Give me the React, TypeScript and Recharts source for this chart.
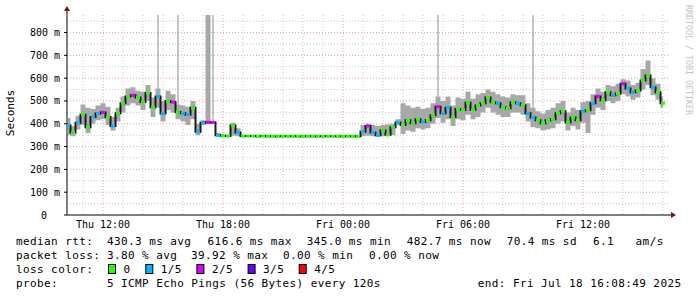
import {
  ComposedChart,
  Area,
  Line,
  Bar,
  Scatter,
  XAxis,
  YAxis,
  CartesianGrid,
} from "recharts";

// time axis: hours since Thu 00:00, one sample every 15 min
const T0 = 10.25;
const STEP = 0.25;

const median = [
  392, 362, 405, 440, 385, 430, 445, 450, 430, 390,
  446, 490, 520, 525, 515, 495, 535, 472, 520, 445,
  500, 495, 452, 446, 440, 470, 365, 405, 407, 406,
  350, 347, 346, 392, 362, 346, 346, 346, 345, 346,
  345, 345, 345, 345, 345, 345, 345, 345, 345, 345,
  345, 345, 345, 345, 345, 345, 345, 345, 345, 365,
  390, 362, 350, 370, 352, 385, 406, 395, 415, 402,
  420, 408, 415, 437, 475, 446, 470, 430, 465, 460,
  492, 462, 480, 490, 515, 494, 490, 472, 468, 494,
  490, 481, 446, 428, 415, 402, 415, 420, 446, 455,
  406, 428, 415, 455, 459, 490, 520, 503, 538, 525,
  533, 575, 555, 538, 546, 590, 612, 560, 538, 490,
];

const lossLevel = [
  1, 0, 1, 0, 0, 1, 1, 2, 0, 1,
  0, 0, 0, 2, 0, 0, 0, 0, 1, 1,
  0, 2, 0, 1, 1, 0, 1, 1, 2, 2,
  1, 0, 0, 0, 1, 0, 0, 0, 0, 0,
  0, 0, 0, 0, 0, 0, 0, 0, 0, 0,
  0, 0, 0, 0, 0, 0, 0, 0, 0, 1,
  2, 1, 1, 0, 0, 0, 1, 0, 0, 0,
  0, 1, 0, 0, 2, 1, 1, 0, 0, 0,
  0, 0, 0, 0, 0, 0, 1, 0, 0, 0,
  1, 0, 1, 1, 0, 0, 0, 0, 0, 0,
  0, 0, 0, 1, 0, 1, 2, 0, 0, 1,
  0, 2, 1, 1, 0, 0, 0, 1, 0, 0,
];

const smokeLow = [
  350, 345, 375, 395, 360, 400, 415, 420, 395, 370,
  410, 450, 480, 490, 480, 460, 500, 430, 470, 410,
  460, 450, 420, 410, 395, 420, 350, 395, 400, 400,
  345, 345, 345, 348, 345, 345, 345, 345, 345, 345,
  345, 345, 345, 345, 345, 345, 345, 345, 345, 345,
  345, 345, 345, 345, 345, 345, 345, 345, 345, 345,
  348, 345, 345, 345, 345, 350, 395, 355, 370, 365,
  380, 375, 380, 400, 425, 405, 420, 390, 420, 415,
  440, 420, 430, 450, 470, 450, 440, 430, 430, 450,
  450, 440, 410, 385, 380, 370, 375, 380, 400, 410,
  370, 390, 375, 405, 360, 440, 470, 460, 500, 490,
  500, 530, 520, 505, 515, 550, 570, 525, 505, 470,
];

const smokeHigh = [
  425, 390, 435, 485, 470, 465, 480, 490, 475, 430,
  470, 520, 555, 560, 545, 540, 570, 515, 555, 500,
  545, 530, 485, 480, 475, 500, 400, 415, 877, 412,
  360, 350, 350, 405, 380, 348, 348, 348, 347, 348,
  347, 347, 347, 347, 347, 347, 347, 347, 347, 347,
  347, 347, 347, 347, 347, 347, 347, 347, 347, 395,
  400, 395, 390, 395, 398, 400, 420, 490, 480, 470,
  475, 465, 470, 490, 520, 500, 520, 480, 515, 510,
  540, 510, 530, 535, 550, 540, 530, 520, 515, 530,
  525, 525, 490, 470, 455, 445, 460, 470, 490, 500,
  450, 470, 460, 495, 500, 530, 555, 540, 570, 565,
  575, 595, 590, 570, 580, 640, 677, 600, 575, 520,
];

// lone max pings that hit the top of the graph
const spikeTimes = [14.75, 15.75, 17.5, 28.75, 33.5];
const spikeTop = [877, 877, 877, 877, 877];

const lossColors = ["#26ff00", "#00b8ff", "#dd00ff", "#6a00ff", "#ff0000"];
const lossNames = ["0", "1/5", "2/5", "3/5", "4/5"];

const xTicks = [12, 18, 24, 30, 36];
const xLabels = ["Thu 12:00", "Thu 18:00", "Fri 00:00", "Fri 06:00", "Fri 12:00"];
const yTicks = [0, 100, 200, 300, 400, 500, 600, 700, 800];
const yLabels = ["0", "100 m", "200 m", "300 m", "400 m", "500 m", "600 m", "700 m", "800 m"];

const minorHours = [11, 13, 14, 15, 16, 17, 19, 20, 21, 22, 23, 25, 26, 27, 28, 29, 31, 32, 33, 34, 35, 37, 38, 39, 40];
const minorMs = [50, 150, 250, 350, 450, 550, 650, 750, 850];

const rows = median.map((m, i) => {
  const t = T0 + i * STEP;
  const s = spikeTimes.indexOf(t);
  return {
    t,
    med: m,
    loss: lossLevel[i],
    smoke: [smokeLow[i], smokeHigh[i]],
    spike: s >= 0 ? [smokeHigh[i], spikeTop[s]] : null,
  };
});

const MONO = '"DejaVu Sans Mono", monospace';

function YTick({ x, y, payload }: any) {
  const i = yTicks.indexOf(payload.value);
  return (
    <text
      x={payload.value === 0 ? x - 13 : x}
      y={y}
      dy={3.5}
      textAnchor="end"
      fontSize={10}
      fontFamily={MONO}
      fill="#000"
    >
      {yLabels[i]}
    </text>
  );
}

function LossMark({ cx, cy, payload }: any) {
  if (cx == null || cy == null) return null;
  return <rect x={cx - 2} y={cy - 1.5} width={4} height={3} fill={lossColors[payload.loss]} />;
}

const legendText = {
  fontFamily: MONO,
  fontSize: 11,
  letterSpacing: 0.4,
  fill: "#000",
  whiteSpace: "pre",
} as const;

export default function App() {
  return (
    <div
      style={{
        position: "absolute",
        left: 0,
        top: 0,
        width: 697,
        height: 297,
        background: "#fff",
      }}
    >
      <ComposedChart
        width={697}
        height={232}
        data={rows}
        margin={{ top: 15, right: 28, bottom: 0, left: 0 }}
      >
        <CartesianGrid
          stroke="#c8c8c8"
          strokeDasharray="1 2"
          verticalValues={minorHours}
          horizontalValues={minorMs}
        />
        <CartesianGrid
          stroke="#e8a0a0"
          strokeDasharray="1 2"
          verticalValues={xTicks}
          horizontalValues={yTicks.slice(1)}
        />
        <XAxis
          dataKey="t"
          type="number"
          domain={[10.2, 40.3]}
          ticks={xTicks}
          interval={0}
          tickFormatter={(v: number) => xLabels[xTicks.indexOf(v)]}
          tick={{ fontSize: 10, fill: "#000", fontFamily: MONO }}
          tickLine={false}
          tickSize={0}
          tickMargin={6}
          axisLine={{ stroke: "#000" }}
          height={17}
          allowDataOverflow
        />
        <YAxis
          type="number"
          domain={[0, 877]}
          ticks={yTicks}
          interval={0}
          tick={<YTick />}
          tickSize={3}
          tickMargin={4}
          tickLine={{ stroke: "#000" }}
          axisLine={{ stroke: "#000" }}
          width={67}
          allowDataOverflow
        />
        <Area
          type="step"
          dataKey="smoke"
          stroke="none"
          fill="#a8a8a8"
          fillOpacity={1}
          isAnimationActive={false}
        />
        <Bar dataKey="spike" fill="#8c8c8c" barSize={1} isAnimationActive={false} />
        <Line
          type="step"
          dataKey="med"
          stroke="#1a1a1a"
          strokeWidth={2}
          dot={false}
          isAnimationActive={false}
        />
        <Scatter dataKey="med" shape={<LossMark />} isAnimationActive={false} />
      </ComposedChart>

      <svg
        width={697}
        height={297}
        style={{ position: "absolute", left: 0, top: 0, pointerEvents: "none" }}
      >
        {/* axis arrows */}
        <line x1={67} y1={15} x2={67} y2={10} stroke="#000" />
        <polygon points="64,11 70,11 67,6" fill="#7f1010" />
        <line x1={669} y1={215} x2={672} y2={215} stroke="#000" />
        <polygon points="671,212 671,218 676,215" fill="#7f1010" />

        <text
          transform="translate(14,113) rotate(-90)"
          textAnchor="middle"
          fontFamily={MONO}
          fontSize={11}
          fill="#000"
        >
          Seconds
        </text>
        <text
          transform="translate(686,5) rotate(90)"
          fontFamily={MONO}
          fontSize={8.3}
          fill="#c4c4c4"
        >
          RRDTOOL / TOBI OETIKER
        </text>

        <g style={legendText}>
          <text x={16} y={245}>median rtt:</text>
          <text x={107} y={245}>430.3 ms avg</text>
          <text x={207.6} y={245}>616.6 ms max</text>
          <text x={306.7} y={245}>345.0 ms min</text>
          <text x={406.7} y={245}>482.7 ms now</text>
          <text x={506.7} y={245}>70.4 ms sd</text>
          <text x={593} y={245}>6.1</text>
          <text x={635.6} y={245}>am/s</text>

          <text x={16} y={259}>packet loss:</text>
          <text x={107} y={259}>3.80 % avg</text>
          <text x={191} y={259}>39.92 % max</text>
          <text x={283} y={259}>0.00 % min</text>
          <text x={369} y={259}>0.00 % now</text>

          <text x={16} y={273}>loss color:</text>
          {lossNames.map((n, i) => {
            const bx = [108, 145.3, 196.4, 247.6, 298.7][i];
            return (
              <g key={n}>
                <rect x={bx + 0.5} y={264.5} width={7} height={9} fill={lossColors[i]} stroke="#000" />
                <text x={bx + 15.5} y={273}>{n}</text>
              </g>
            );
          })}

          <text x={16} y={287}>probe:</text>
          <text x={107} y={287}>5 ICMP Echo Pings (56 Bytes) every 120s</text>
          <text x={477.8} y={287}>end: Fri Jul 18 16:08:49 2025</text>
        </g>
      </svg>
    </div>
  );
}
